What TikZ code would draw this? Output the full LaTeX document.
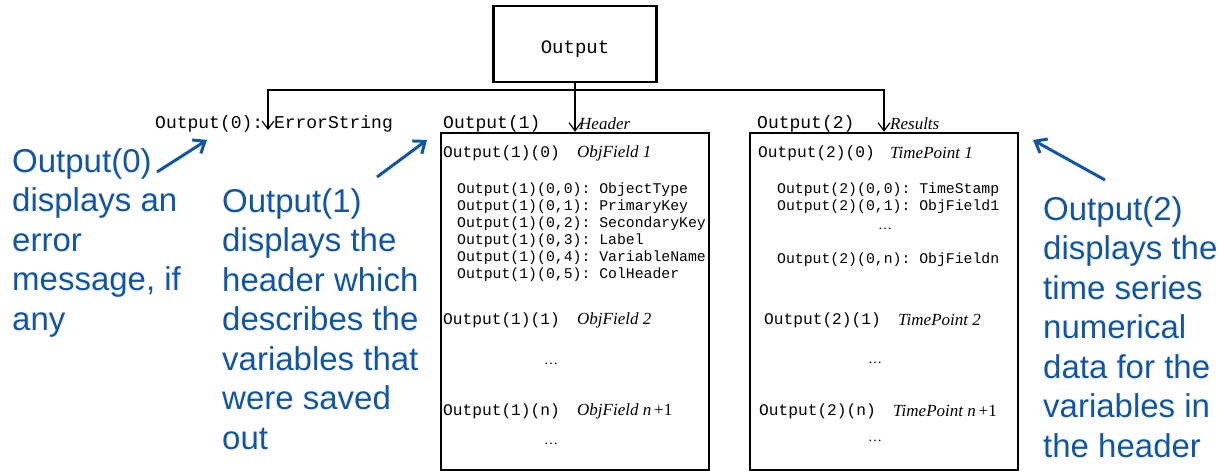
\documentclass[tikz,border=0pt]{standalone}
\usepackage{fontspec}
\setmainfont{Liberation Serif}
\setsansfont{Liberation Sans}
\setmonofont{Liberation Mono}
\usetikzlibrary{arrows.meta, positioning}
\definecolor{noteblue}{RGB}{16,86,164}

\begin{document}
\begin{tikzpicture}[x=1pt, y=-1pt,
  every node/.style={inner sep=0pt},
  topbox/.style={draw, line width=2.5pt, minimum width=163pt, minimum height=76pt,
                 text height=18pt, text depth=0pt,
                 font=\fontsize{19}{22}\selectfont\ttfamily},
  panel/.style={draw, line width=2.5pt, minimum width=268pt, minimum height=337pt},
  hdr/.style={anchor=west, font=\fontsize{18}{20}\selectfont\ttfamily},
  row/.style={anchor=west, font=\fontsize{16.2}{18}\selectfont\ttfamily},
  sub/.style={anchor=west, font=\fontsize{14.8}{17}\selectfont\ttfamily},
  fld/.style={anchor=west, font=\fontsize{17}{19}\selectfont\itshape},
  dots/.style={font=\fontsize{14}{16}\selectfont},
  note/.style={anchor=north west, align=left, text=noteblue,
               font=\fontsize{33}{39.5}\selectfont\sffamily},
  conn/.style={line width=1.2pt},
  drop/.style={conn, {Straight Barb[length=8pt,width=12pt]}-{Straight Barb[length=8pt,width=12pt]}},
  pointer/.style={noteblue, line width=3pt, -{Straight Barb[length=10pt,width=16pt]}},
]
\useasboundingbox (0,0) rectangle (1224,471);

\def\xL{441} \def\xM{575} \def\xR{884}

% Boites
\node[topbox] (out) at (\xM,44) {Output};
\node[panel] (p1box) at (\xM,301.5) {};
\node[panel] (p2box) at (\xR,301.5) {};

% Entetes
\node[hdr] (hdr0) at (155,124) {Output(0): ErrorString};
\node[hdr] (hdr1) at (443,124) {Output(1)};
\node[fld] (hdr1i) at (579,124) {Header};
\node[hdr] (hdr2) at (757,124) {Output(2)};
\node[fld] (hdr2i) at (890,124) {Results};

% Liaisons
\coordinate (tip0) at (268,130);
\coordinate (bus) at (\xM,90);
\draw[conn, -{Straight Barb[length=8pt,width=12pt]}] (out.south) -- (p1box.north);
\draw[drop] (tip0) |- (bus) -| (p2box.north);

% Output(1)
\node[row] (p1r0) at (443,153) {Output(1)(0)};
\node[fld] (p1r0i) at (577,153) {ObjField 1};
\foreach \k/\nm in {0/ObjectType, 1/PrimaryKey, 2/SecondaryKey, 3/Label, 4/VariableName, 5/ColHeader}
  \node[sub] (p1s\k) at (457,{190+17*\k}) {Output(1)(0,\k): \nm};
\node[row] (p1r1) at (443,320) {Output(1)(1)};
\node[fld] (p1r1i) at (577,320) {ObjField 2};
\node[dots] (p1d1) at (551,364) {\dots};
\node[row] (p1rn) at (443,411) {Output(1)(n)};
\node[fld] (p1rni) at (577,411) {ObjField n\,\textup{+1}};
\node[dots] (p1d2) at (551,444) {\dots};

% Output(2)
\node[row] (p2r0) at (758,153) {Output(2)(0)};
\node[fld] (p2r0i) at (890,153) {TimePoint 1};
\node[sub] (p2s0) at (777,190) {Output(2)(0,0): TimeStamp};
\node[sub] (p2s1) at (777,207) {Output(2)(0,1): ObjField1};
\node[dots] (p2d0) at (885,229) {\dots};
\node[sub] (p2sn) at (777,260) {Output(2)(0,n): ObjFieldn};
\node[row] (p2r1) at (764,320) {Output(2)(1)};
\node[fld] (p2r1i) at (898,320) {TimePoint 2};
\node[dots] (p2d1) at (875,363) {\dots};
\node[row] (p2rn) at (759,411) {Output(2)(n)};
\node[fld] (p2rni) at (893,411) {TimePoint n\,\textup{+1}};
\node[dots] (p2d2) at (875,441) {\dots};

% Notes
\node[note] (note0) at (12,148) {Output(0)\\displays an\\error\\message, if\\any};
\node[note] (note1) at (222,188) {Output(1)\\displays the\\header which\\describes the\\variables that\\were saved\\out};
\node[note] (note2) at (1043,196) {Output(2)\\displays the\\time series\\numerical\\data for the\\variables in\\the header};

\coordinate (tail0) at (157,172); \coordinate (head0) at (207,140);
\coordinate (tail1) at (377,177); \coordinate (head1) at (427,140);
\coordinate (tail2) at (1105,180); \coordinate (head2) at (1033,140);
\draw[pointer] (tail0) -- (head0);
\draw[pointer] (tail1) -- (head1);
\draw[pointer] (tail2) -- (head2);

\end{tikzpicture}
\end{document}
